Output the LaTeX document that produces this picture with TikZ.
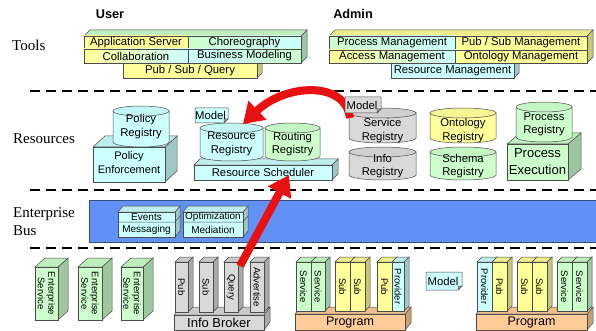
\documentclass[tikz,border=0pt]{standalone}
\usepackage{fontspec}
\setmainfont{Liberation Serif}
\newfontfamily\arialf{Liberation Sans}
\usetikzlibrary{arrows.meta}
\definecolor{cyanL}{RGB}{204,255,255}
\definecolor{yellowL}{RGB}{255,255,153}
\definecolor{greenL}{RGB}{204,255,204}
\definecolor{greyL}{RGB}{217,217,217}
\definecolor{peachL}{RGB}{255,204,153}
\definecolor{busblue}{RGB}{97,145,245}
\definecolor{arrowred}{RGB}{232,16,16}
\tikzset{
  outl/.style={draw=black!70, line width=0.5pt},
  bt/.style={font=\arialf\fontsize{11.3}{13.5}\selectfont, inner sep=0pt, align=center},
  smt/.style={font=\arialf\fontsize{10}{12}\selectfont, inner sep=0pt, align=center},
  vt/.style={font=\arialf\fontsize{9.5}{10.5}\selectfont, inner sep=0pt, align=center, rotate=-90},
  lbl/.style={font=\fontsize{15}{18}\selectfont, inner sep=0pt, align=left},
  hdr/.style={font=\arialf\bfseries\fontsize{12.7}{15}\selectfont, inner sep=0pt},
  sepline/.style={draw=black, line width=2pt, dash pattern=on 10pt off 6pt},
  redarrow/.style={draw=arrowred, line width=8pt, -{Triangle[width=25pt,length=20pt]}}
}
% 3D box: x1,y1,x2,y2 (front), dx,dy (depth), colour
\newcommand{\cubo}[7]{%
  \path[outl, fill=#7!78!black] (#3,#2) -- ++(#5,-#6) -- ++(0,#4-#2) -- (#3,#4) -- cycle;
  \path[outl, fill=#7!93!black] (#1,#2) -- ++(#5,-#6) -- (#3+#5,#2-#6) -- (#3,#2) -- cycle;
  \path[outl, fill=#7] (#1,#2) rectangle (#3,#4);
}
\newcommand{\cellbox}[8]{%
  \path[outl, left color=#5, right color=#6] (#1,#2) rectangle (#3,#4);
  \node[bt] (#7) at ({(#1+#3)/2},{(#2+#4)/2}) {#8};
}
% cylinder: x1,x2,ytop,ybottom,colour,name,text,texty
\newcommand{\cyl}[8]{%
  \pgfmathsetmacro\cylrx{(#2-#1)/2}%
  \pgfmathsetmacro\cylcx{(#1+#2)/2}%
  \path[outl, fill=#5] (#1,#3) -- (#1,#4) arc[start angle=180, end angle=360, x radius=\cylrx pt, y radius=5pt] -- (#2,#3) -- cycle;
  \path[outl, fill=#5!96!black] (\cylcx,#3) ellipse[x radius=\cylrx pt, y radius=5pt];
  \node[bt] (#6) at (\cylcx,#8) {#7};
}
\newcommand{\notebox}[6]{%
  \path[outl, fill=#5] (#1,#2) -- (#3,#2) -- (#3,#4-4) -- (#3-4,#4) -- (#1,#4) -- cycle;
  \path[outl, fill=#5!70!black] (#3,#4-4) -- (#3-4,#4-4) -- (#3-4,#4) -- cycle;
  \node[bt] (#6) at ({(#1+#3)/2-1},{(#2+#4)/2}) {Model};
}
\newcommand{\colbox}[7]{%
  \cubo{#1}{#2}{#3}{#4}{5}{5}{#5}
  \node[vt] (#6) at ({(#1+#3)/2},{(#2+#4)/2}) {#7};
}
\begin{document}
\begin{tikzpicture}[x=1pt,y=-1pt]
\useasboundingbox (0,0) rectangle (596,331);

% ---------------- labels
\node[lbl, anchor=west] (tools) at (12,45) {Tools};
\node[lbl, anchor=west] (resources) at (13,139) {Resources};
\node[lbl, anchor=west] (ebus) at (13,222) {Enterprise\\Bus};
\node[hdr] (user) at (110,14) {User};
\node[hdr] (admin) at (353,14) {Admin};

% ---------------- separators
\draw[sepline] (30,91) -- (596,91);
\draw[sepline] (30,190) -- (596,190);
\draw[sepline] (30,248) -- (596,248);

% ---------------- Tools / User
\cubo{123}{63}{257}{78}{5}{5}{yellowL}
\node[bt] (psq) at (190,70.5) {Pub / Sub / Query};
\cubo{84}{36}{301}{63}{6}{6}{greenL}
\cellbox{84}{36}{188}{49}{yellowL}{yellowL}{appserv}{Application Server}
\cellbox{188}{36}{301}{49}{greenL}{cyanL}{choreo}{Choreography}
\cellbox{84}{49}{188}{63}{yellowL}{cyanL}{collab}{Collaboration}
\cellbox{188}{49}{301}{63}{cyanL}{greenL}{busmod}{Business Modeling}

% ---------------- Tools / Admin
\cubo{391}{63}{514}{78}{5}{5}{cyanL}
\node[bt] (resmgmt) at (452.5,70.5) {Resource Management};
\cubo{329}{36}{587}{63}{6}{6}{yellowL}
\cellbox{329}{36}{455}{50}{greenL}{cyanL}{procmgmt}{Process Management}
\cellbox{455}{36}{587}{50}{yellowL}{yellowL}{pubsubmgmt}{Pub / Sub Management}
\cellbox{329}{50}{455}{63}{yellowL}{cyanL}{accmgmt}{Access Management}
\cellbox{455}{50}{587}{63}{yellowL}{yellowL}{ontmgmt}{Ontology Management}

% ---------------- Resources
\cubo{93}{147}{165}{182}{12}{11}{cyanL}
\node[bt, font=\arialf\fontsize{11}{14}\selectfont] (polenf) at (129,163) {Policy\\Enforcement};
\cyl{113}{169}{111}{142}{cyanL}{polreg}{Policy\\Registry}{126.5}

\cubo{194}{165}{332}{180}{6}{6}{cyanL}
\node[bt] (sched) at (263,172.5) {Resource Scheduler};
\cyl{200}{263}{128}{156}{cyanL}{resreg}{Resource\\Registry}{144}
\cyl{265}{320}{128}{156}{greenL}{routreg}{Routing\\Registry}{144}
\notebox{195}{108}{228}{123}{cyanL}{model1}

\cyl{349}{416}{152}{175}{greyL}{inforeg}{Info\\Registry}{166}
\cyl{349}{416}{113}{138}{greyL}{servreg}{Service\\Registry}{130.5}
\cyl{430}{496}{152}{175}{greenL}{schemareg}{Schema\\Registry}{166}
\cyl{430}{496}{113}{138}{yellowL}{ontreg}{Ontology\\Registry}{130.5}

\cubo{507}{144}{568}{180}{13}{11}{greenL}
\node[bt, font=\arialf\fontsize{13}{17}\selectfont] (procexec) at (537.5,161.5) {Process\\Execution};
\cyl{516}{572}{107}{137}{greenL}{procreg}{Process\\Registry}{124.5}

% ---------------- Enterprise bus
\path[fill=busblue, draw=busblue!55!black, line width=0.7pt] (89,200) rectangle (597,242);
\cubo{118}{212}{175}{237}{5}{6}{cyanL}
\draw[outl] (118,222) -- (175,222) -- (180,216);
\node[smt] (events) at (146.5,217) {Events};
\node[smt] (messaging) at (146.5,229.5) {Messaging};
\cubo{183}{212}{243}{237}{5}{6}{cyanL}
\draw[outl] (183,222) -- (243,222) -- (248,216);
\node[smt] (optim) at (213,217) {Optimization};
\node[smt] (mediation) at (213,229.5) {Mediation};

% ---------------- Enterprise services
\cubo{35}{267}{58}{320}{10}{9}{greenL}
\node[vt] (es1) at (46.5,293.5) {Enterprise\\Service};
\cubo{78}{267}{102}{320}{10}{9}{greenL}
\node[vt] (es2) at (90,293.5) {Enterprise\\Service};
\cubo{121}{267}{143}{320}{10}{9}{greenL}
\node[vt] (es3) at (132,293.5) {Enterprise\\Service};

% ---------------- Info broker
\cubo{174}{315}{264}{330}{6}{8}{greyL}
\node[bt, font=\arialf\fontsize{13}{15}\selectfont] (broker) at (219,322.5) {Info Broker};
\colbox{175}{262}{188}{312}{greyL}{ibpub}{Pub}
\colbox{199}{262}{213}{312}{greyL}{ibsub}{Sub}
\colbox{224}{262}{238}{312}{greyL}{ibquery}{Query}
\colbox{250}{262}{264}{312}{greyL}{ibadv}{Advertise}

% ---------------- Program 1
\cubo{295}{314}{405}{330}{6}{7}{peachL}
\node[bt, font=\arialf\fontsize{12.5}{15}\selectfont] (prog1) at (350,322) {Program};
\colbox{296}{262}{311}{311}{greenL}{p1s1}{Service}
\colbox{311}{262}{325}{311}{greenL}{p1s2}{Service}
\colbox{335}{262}{350}{311}{yellowL}{p1u1}{Sub}
\colbox{350}{262}{365}{311}{yellowL}{p1u2}{Sub}
\colbox{377}{262}{392}{311}{yellowL}{p1p}{Pub}
\colbox{392}{262}{404}{311}{cyanL}{p1prov}{Provider}

\notebox{426}{272}{462}{290}{cyanL}{model3}

% ---------------- Program 2
\cubo{476}{314}{587}{330}{6}{7}{peachL}
\node[bt, font=\arialf\fontsize{12.5}{15}\selectfont] (prog2) at (531.5,322) {Program};
\colbox{477}{262}{492}{311}{cyanL}{p2prov}{Provider}
\colbox{492}{262}{507}{311}{yellowL}{p2p}{Pub}
\colbox{517}{262}{532}{311}{yellowL}{p2u1}{Sub}
\colbox{532}{262}{547}{311}{yellowL}{p2u2}{Sub}
\colbox{557}{262}{572}{311}{greenL}{p2s1}{Service}
\colbox{572}{262}{587}{311}{greenL}{p2s2}{Service}

% ---------------- red arrows
\coordinate (qtop) at (240,266);
\coordinate (schedtip) at (289,175);
\draw[redarrow] (qtop) -- (schedtip);
\coordinate (arcstart) at (350,118);
\coordinate (arcend) at (243,124);
\draw[redarrow] (arcstart) .. controls (345,80) and (285,84) .. (arcend);
\notebox{345}{97}{381}{113}{greyL}{model2}
\end{tikzpicture}
\end{document}
